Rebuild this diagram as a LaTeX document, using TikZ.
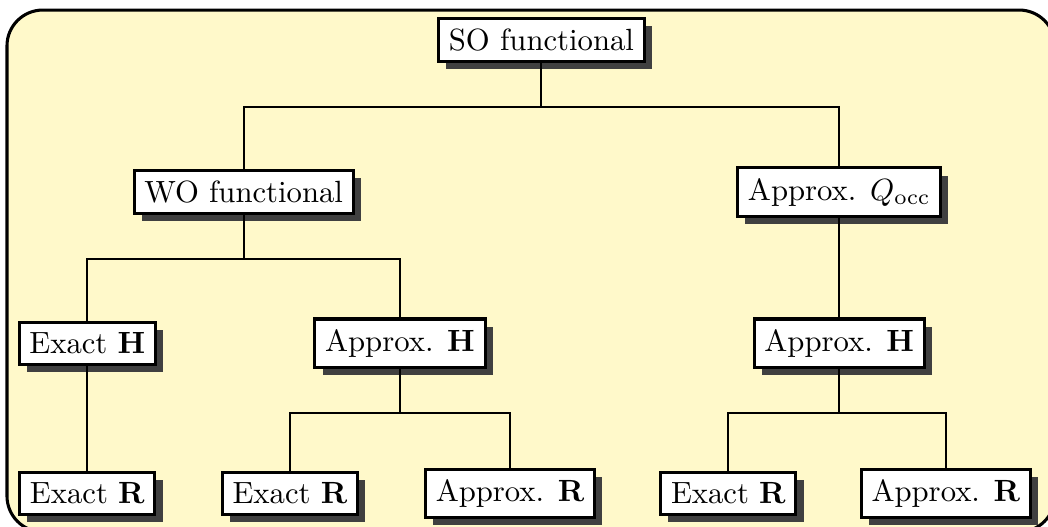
\documentclass[tikz,border=0pt]{standalone}
\usetikzlibrary{shadows}
\definecolor{paleyellow}{RGB}{255,249,202}
\begin{document}
\begin{tikzpicture}
\path[use as bounding box] (0,0) rectangle (12,-6.023);

\tikzstyle{every path}+=[line width=0.65pt]
\tikzstyle{box}=[draw,line width=1pt,fill=white,
  drop shadow={shadow xshift=2.5pt,shadow yshift=-2.5pt,fill=black!75,opacity=1}]

% background panel
\draw[line width=1pt,fill=paleyellow,rounded corners=0.41cm] (0.08,-0.115) rectangle (12.08,-6.09);

\node[box] (so) at (6.2,-0.46) {SO functional};

\node[box] (wo) at (2.79,-2.2) {WO functional};
\node[box] (qocc) at (9.61,-2.2) {Approx. $Q_{\mathrm{occ}}$};

\node[box] (exh) at (1.0,-3.93) {Exact $\mathbf{H}$};
\node[box] (aph) at (4.58,-3.93) {Approx. $\mathbf{H}$};
\node[box] (aphq) at (9.61,-3.93) {Approx. $\mathbf{H}$};

\node[box] (exr) at (1.0,-5.65) {Exact $\mathbf{R}$};
\node[box] (exra) at (3.32,-5.65) {Exact $\mathbf{R}$};
\node[box] (apra) at (5.84,-5.65) {Approx. $\mathbf{R}$};
\node[box] (exrq) at (8.34,-5.65) {Exact $\mathbf{R}$};
\node[box] (aprq) at (10.83,-5.65) {Approx. $\mathbf{R}$};

\draw (so.south) -- ++(0,-0.5) -| (wo.north)
      (so.south) -- ++(0,-0.5) -| (qocc.north);
\draw (wo.south) -- ++(0,-0.5) -| (exh.north)
      (wo.south) -- ++(0,-0.5) -| (aph.north);
\draw (qocc.south) -- (aphq.north);
\draw (exh.south) -- (exr.north);
\draw (aph.south) -- ++(0,-0.5) -| (exra.north)
      (aph.south) -- ++(0,-0.5) -| (apra.north);
\draw (aphq.south) -- ++(0,-0.5) -| (exrq.north)
      (aphq.south) -- ++(0,-0.5) -| (aprq.north);
\end{tikzpicture}
\end{document}
